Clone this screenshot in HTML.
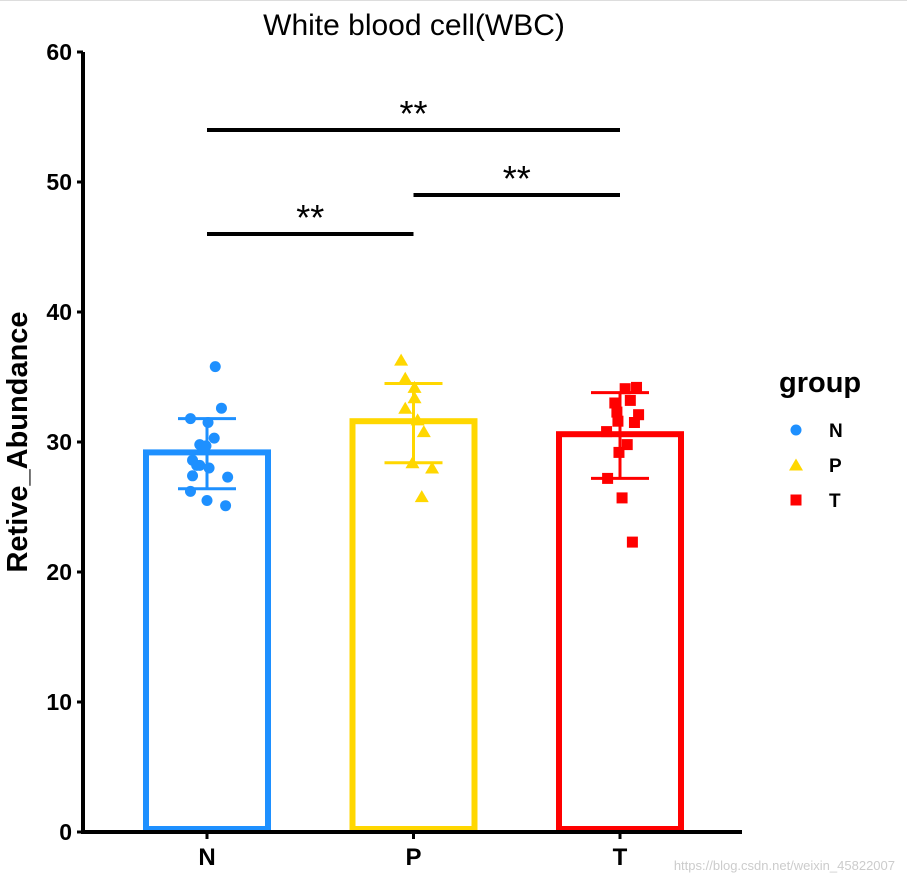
<!DOCTYPE html>
<html><head><meta charset="utf-8"><style>
body{margin:0;background:#fff}
svg{display:block;font-family:"Liberation Sans",Arial,sans-serif}
</style></head><body>
<svg id="c" width="907" height="886">
<line x1="0" y1="0.5" x2="907" y2="0.5" stroke="#ddd"/>
<text x="414" y="35" font-size="30" text-anchor="middle">White blood cell(WBC)</text>
<text transform="translate(27,442) rotate(-90)" font-size="29" font-weight="bold" text-anchor="middle">Retive_Abundance</text>
<text x="779" y="392" font-size="29" font-weight="bold">group</text>
<text x="895" y="870" font-size="13" fill="#ccc" text-anchor="end">https://blog.csdn.net/weixin_45822007</text>
</svg>
<script>
const categories=["N","P","T"];
const colors=["#1E90FF","#FFD700","#FF0000"];
const means=[29.2,31.6,30.6];
const errHigh=[31.8,34.5,33.8];
const errLow=[26.4,28.4,27.2];
const yTicks=[0,10,20,30,40,50,60];
const ptsN=[35.8,32.6,31.8,31.5,30.3,29.8,29.7,28.6,28.2,28.2,28.0,27.4,27.3,26.2,25.5,25.1];
const jitN=[0.04,0.07,-0.08,0.005,0.035,-0.035,-0.005,-0.07,-0.05,-0.035,0.01,-0.07,0.1,-0.08,0,0.09];
const ptsP=[36.3,34.9,34.2,33.4,32.6,31.7,30.8,28.4,28.0,25.8];
const jitP=[-0.06,-0.04,0.005,0.005,-0.04,0.02,0.05,-0.005,0.09,0.04];
const ptsT=[34.1,34.2,33.0,33.2,32.3,32.1,31.6,31.5,30.8,29.8,29.2,27.2,25.7,22.3];
const jitT=[0.025,0.08,-0.025,0.05,-0.015,0.09,-0.01,0.07,-0.065,0.035,-0.005,-0.06,0.01,0.06];
const sigPairs=[[0,2,54],[1,2,49],[0,1,46]];
const sigLabels=["**","**","**"];
const NS="http://www.w3.org/2000/svg";
const svg=document.getElementById('c');
const y=v=>832-v*13;
const x=i=>207+i*206.5;
function el(t,a){const e=document.createElementNS(NS,t);for(const k in a)e.setAttribute(k,a[k]);svg.appendChild(e);return e;}
let ax=el('line',{x1:83,y1:52,x2:83,y2:833,stroke:'#000','stroke-width':4});


yTicks.forEach(t=>{
 let l=el('line',{x1:77,y1:y(t),x2:83,y2:y(t),stroke:'#000','stroke-width':3});
 
 
 let tx=el('text',{x:72,y:y(t)+8,'font-size':23,'font-weight':'bold','text-anchor':'end'});
 tx.textContent=t;
 
 
});
categories.forEach((c,i)=>{
 let b=el('rect',{x:x(i)-61,y:y(means[i]),width:122,height:y(0)-3-y(means[i]),fill:'none',stroke:colors[i],'stroke-width':6});
 
 
 let g=el('path',{d:`M${x(i)},${y(errLow[i])}V${y(errHigh[i])}M${x(i)-29},${y(errHigh[i])}H${x(i)+29}M${x(i)-29},${y(errLow[i])}H${x(i)+29}`,stroke:colors[i],'stroke-width':3,fill:'none'});
 
 
 let tk=el('line',{x1:x(i),y1:833,x2:x(i),y2:839,stroke:'#000','stroke-width':3});
 
 
 let tl=el('text',{x:x(i),y:865,'font-size':24,'font-weight':'bold','text-anchor':'middle'});
 tl.textContent=c;
 
 
});
let xa=el('line',{x1:81,y1:832,x2:742,y2:832,stroke:'#000','stroke-width':4});


function pt(shape,cx,cy,col){
 if(shape==0)return el('circle',{cx,cy,r:5.5,fill:col});
 if(shape==1)return el('path',{d:`M${cx},${cy-6.5}L${cx+7},${cy+5.5}L${cx-7},${cy+5.5}Z`,fill:col});
 return el('rect',{x:cx-5.5,y:cy-5.5,width:11,height:11,fill:col});
}
[[ptsN,jitN],[ptsP,jitP],[ptsT,jitT]].forEach(([p,j],i)=>{
 p.forEach((v,k)=>{
  let e=pt(i,x(i+j[k]),y(v),colors[i]);
  
  
 });
});
sigPairs.forEach(([a,b,v],k)=>{
 let l=el('line',{x1:x(a),y1:y(v),x2:x(b),y2:y(v),stroke:'#000','stroke-width':4});
 
 
 let t=el('text',{x:(x(a)+x(b))/2,y:y(v)-4,'font-size':36,'text-anchor':'middle'});
 t.textContent=sigLabels[k];
 
 
});
categories.forEach((c,i)=>{
 let e=pt(i,796,430+i*35,colors[i]);
 
 
 let t=el('text',{x:829,y:437+i*35,'font-size':19,'font-weight':'bold'});
 t.textContent=c;
 
 
});
</script>
</body></html>
